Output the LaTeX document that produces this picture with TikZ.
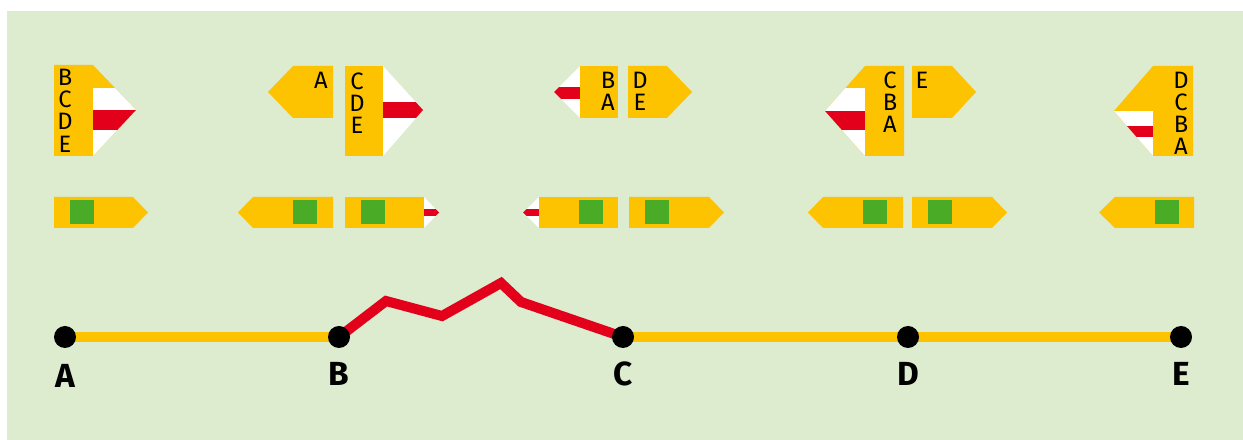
\documentclass[tikz,border=0pt]{standalone}
\usepackage{fontspec}
\setmainfont{Fira Sans}
\usetikzlibrary{backgrounds}
\definecolor{bgGreen}{RGB}{221,235,206}
\definecolor{signYellow}{RGB}{253,195,0}
\definecolor{signRed}{RGB}{226,0,26}
\definecolor{markGreen}{RGB}{74,171,39}

\begin{document}
\begin{tikzpicture}[x=0.2mm, y=-0.2mm,
		letters/.style={inner sep=0pt, align=center, font=\fontsize{13.5}{12.6}\selectfont},
		stopmark/.style={fill=markGreen, minimum size=4.8mm, inner sep=0pt},
		station/.style={circle, fill=black, minimum size=4.4mm, inner sep=0pt},
		stname/.style={inner sep=0pt, font=\bfseries\fontsize{19}{19}\selectfont},
		openline/.style={draw=signYellow, line width=6pt},
		closedline/.style={draw=signRed, line width=5.7pt}]
		\useasboundingbox (0,0) rectangle (1243,440);
		
		\node (A) [station] at (65,337) {};
		\node (B) [station] at (339,337) {};
		\node (C) [station] at (623,337) {};
		\node (D) [station] at (908,337) {};
		\node (E) [station] at (1181,337) {};
		\node (labA) [stname] at (65,376) {A};
		\node (labB) [stname] at (339,374) {B};
		\node (labC) [stname] at (623,374) {C};
		\node (labD) [stname] at (908,374) {D};
		\node (labE) [stname] at (1181,374) {E};
		
		\begin{scope}[on background layer]
			\fill [bgGreen] (7,11) rectangle (1243,440);
			\draw [openline] (A.center)--(B.center);
			\draw [openline] (C.center)--(D.center)--(E.center);
			\draw [closedline] (B.center)--(386,301)--(442,316)--(501,283)--(521,302)--(C.center);
		\end{scope}
		
		\begin{scope}
			\clip (54,65)--(93,65)--(136,110)--(93,156)--(54,156)--cycle;
			\fill [signYellow] (50,60) rectangle (140,160);
			\fill [white] (93,88) rectangle (140,160);
			\fill [signRed] (93,110) rectangle (140,130);
		\end{scope}
		\node (toBCDE) [letters] at (65,110.75) {B\\C\\D\\E};
		
		\fill [signYellow] (268,92)--(293,66)--(333,66)--(333,118)--(293,118)--cycle;
		\node (toA) [letters] at (321,80) {A};
		\fill [signYellow] (345,66) rectangle (383,156);
		\begin{scope}
			\clip (383,66)--(423,110)--(383,156)--cycle;
			\fill [white] (383,60) rectangle (430,160);
			\fill [signRed] (383,102) rectangle (430,118);
		\end{scope}
		\node (toCDE) [letters] at (357,103) {C\\D\\E};
		
		\fill [signYellow] (580,66) rectangle (618,118);
		\begin{scope}
			\clip (580,66)--(554,92)--(580,118)--cycle;
			\fill [white] (550,60) rectangle (580,120);
			\fill [signRed] (550,87) rectangle (580,99);
		\end{scope}
		\node (toBA) [letters] at (608,91.5) {B\\A};
		\fill [signYellow] (628,66)--(667,66)--(692,92)--(667,118)--(628,118)--cycle;
		\node (toDE) [letters] at (640,91.5) {D\\E};
		
		\begin{scope}
			\clip (904,66)--(865,66)--(825,111)--(865,156)--(904,156)--cycle;
			\fill [signYellow] (820,60) rectangle (910,160);
			\fill [white] (820,88) rectangle (865,160);
			\fill [signRed] (820,111) rectangle (865,130);
		\end{scope}
		\node (toCBA) [letters] at (890,102.5) {C\\B\\A};
		\fill [signYellow] (912,66)--(952,66)--(976,92)--(952,118)--(912,118)--cycle;
		\node (toE) [letters] at (922,80) {E};
		
		\begin{scope}
			\clip (1193,66)--(1153,66)--(1114,111)--(1153,156)--(1193,156)--cycle;
			\fill [signYellow] (1110,60) rectangle (1200,160);
			\fill [white] (1110,111) rectangle (1153,160);
			\fill [signRed] (1110,126) rectangle (1153,137);
		\end{scope}
		\node (toDCBA) [letters] at (1181,113.5) {D\\C\\B\\A};
		
		\fill [signYellow] (54,197)--(133,197)--(148,212.5)--(133,228)--(54,228)--cycle;
		\node (stop1) [stopmark] at (82,212.5) {};
		\fill [signYellow] (238,212.5)--(253,197)--(333,197)--(333,228)--(253,228)--cycle;
		\node (stop2) [stopmark] at (305,212.5) {};
		\fill [signYellow] (345,197) rectangle (424,228);
		\begin{scope}
			\clip (424,197)--(439,212.5)--(424,228)--cycle;
			\fill [white] (424,190) rectangle (445,235);
			\fill [signRed] (424,209) rectangle (445,216);
		\end{scope}
		\node (stop3) [stopmark] at (373,212.5) {};
		\fill [signYellow] (539,197) rectangle (618,228);
		\begin{scope}
			\clip (539,197)--(523,212.5)--(539,228)--cycle;
			\fill [white] (518,190) rectangle (539,235);
			\fill [signRed] (518,209) rectangle (539,216);
		\end{scope}
		\node (stop4) [stopmark] at (591,212.5) {};
		\fill [signYellow] (629,197)--(709,197)--(724,212.5)--(709,228)--(629,228)--cycle;
		\node (stop5) [stopmark] at (657,212.5) {};
		\fill [signYellow] (808,212.5)--(823,197)--(903,197)--(903,228)--(823,228)--cycle;
		\node (stop6) [stopmark] at (875,212.5) {};
		\fill [signYellow] (912,197)--(992,197)--(1007,212.5)--(992,228)--(912,228)--cycle;
		\node (stop7) [stopmark] at (940,212.5) {};
		\fill [signYellow] (1099,212.5)--(1115,197)--(1194,197)--(1194,228)--(1115,228)--cycle;
		\node (stop8) [stopmark] at (1167,212.5) {};
	\end{tikzpicture}
\end{document}
